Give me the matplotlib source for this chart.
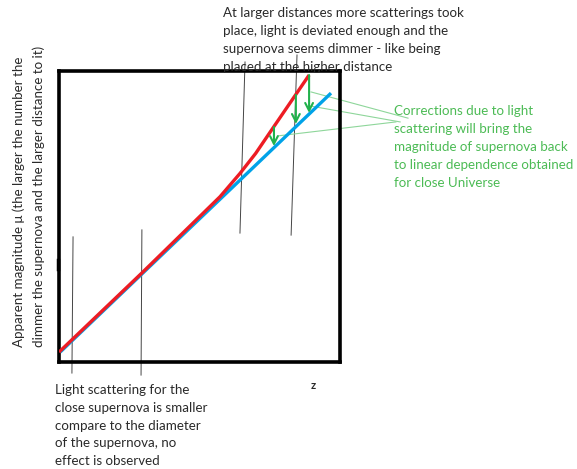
import matplotlib
matplotlib.use("Agg")
import matplotlib.pyplot as plt

W, H = 577, 469
# ---- data (axes units: z from 0 to 1, mu from 0 to 1) ----
blue_z = [0.004, 0.968]
blue_mu = [0.034, 0.924]
red_z = [0.0, 0.295, 0.573, 0.644, 0.700, 0.769, 0.890]
red_mu = [0.034, 0.306, 0.568, 0.648, 0.717, 0.815, 0.986]

arrow_z = [0.765, 0.843, 0.890]
arrow_top = [0.808, 0.918, 0.986]
arrow_bot = [0.742, 0.818, 0.856]

# marker lines (z_top, mu_top, z_bottom, mu_bottom)
vlines = [(0.050, 0.430, 0.046, -0.038),
          (0.295, 0.454, 0.292, -0.045),
          (0.662, 1.031, 0.644, 0.443),
          (0.847, 1.055, 0.826, 0.436)]
# pointer lines (z0, mu0, z1, mu1)
pointers = [(0.897, 0.928, 1.242, 0.838),
            (0.893, 0.880, 1.214, 0.825),
            (0.779, 0.777, 1.199, 0.825)]

top_text = ("At larger distances more scatterings took\n"
            "place, light is deviated enough and the\n"
            "supernova seems dimmer - like being\n"
            "placed at the higher distance")
green_text = ("Corrections due to light\n"
              "scattering will bring the\n"
              "magnitude of supernova back\n"
              "to linear dependence obtained\n"
              "for close Universe")
bottom_text = ("Light scattering for the\n"
               "close supernova is smaller\n"
               "compare to the diameter\n"
               "of the supernova, no\n"
               "effect is observed")
ylabel_text = ("Apparent magnitude \u03bc (the larger the number the\n"
               "dimmer the supernova and the larger distance to it)")
xlabel_text = "z"

RED = "#ed1c24"
BLUE = "#00a2e8"
GREEN = "#22b14c"
TGREEN = "#4cbb55"
LGREEN = "#8ed69a"
TXT = "#2a2a2a"
FONT = "Lato"
FS = 9.6
LS = 1.6

fig = plt.figure(figsize=(W / 100, H / 100), dpi=100)
fig.patch.set_facecolor("white")
L, T, R, B = 59, 71, 340, 362
ax = fig.add_axes([L / W, 1 - B / H, (R - L) / W, (B - T) / H])
ax.set_xlim(0, 1)
ax.set_ylim(0, 1)
ax.set_xticks([])
ax.set_yticks([])
for s in ax.spines.values():
    s.set_linewidth(2.6)
    s.set_color("black")

for (z0, m0, z1, m1) in vlines:
    ax.plot([z0, z1], [m0, m1], color="#444444", lw=0.7, clip_on=False, zorder=1)

ax.plot(blue_z, blue_mu, color=BLUE, lw=2.4, solid_capstyle="butt", zorder=3)
ax.plot(red_z, red_mu, color=RED, lw=2.4, solid_capstyle="butt", zorder=4)

for (z0, m0, z1, m1) in pointers:
    ax.plot([z0, z1], [m0, m1], color=LGREEN, lw=0.8, clip_on=False, zorder=2)

for z, t, b in zip(arrow_z, arrow_top, arrow_bot):
    ax.annotate("", xy=(z, b), xytext=(z, t),
                arrowprops=dict(arrowstyle="->,head_length=0.55,head_width=0.28",
                                color=GREEN, lw=1.5, shrinkA=0, shrinkB=0),
                zorder=5)

# small black mark on the left edge
ax.plot([-0.004, -0.004], [0.318, 0.352], color="black", lw=2.5, clip_on=False)

fig.text(223 / W, 1 - 7 / H, top_text, ha="left", va="top", fontsize=FS,
         family=FONT, color=TXT, linespacing=LS)
fig.text(394 / W, 1 - 105 / H, green_text, ha="left", va="top", fontsize=FS,
         family=FONT, color=TGREEN, linespacing=LS)
fig.text(55 / W, 1 - 384 / H, bottom_text, ha="left", va="top", fontsize=FS,
         family=FONT, color=TXT, linespacing=1.58)
fig.text(12 / W, 1 - 347 / H, ylabel_text, ha="left", va="top", rotation=90,
         rotation_mode="anchor", fontsize=FS, family=FONT, color=TXT,
         linespacing=1.75, multialignment="left")
fig.text(313 / W, 1 - 385 / H, xlabel_text, ha="center", va="center",
         fontsize=8, family=FONT, fontweight="bold", color=TXT)

fig.savefig("out.png", dpi=100, facecolor="white")
